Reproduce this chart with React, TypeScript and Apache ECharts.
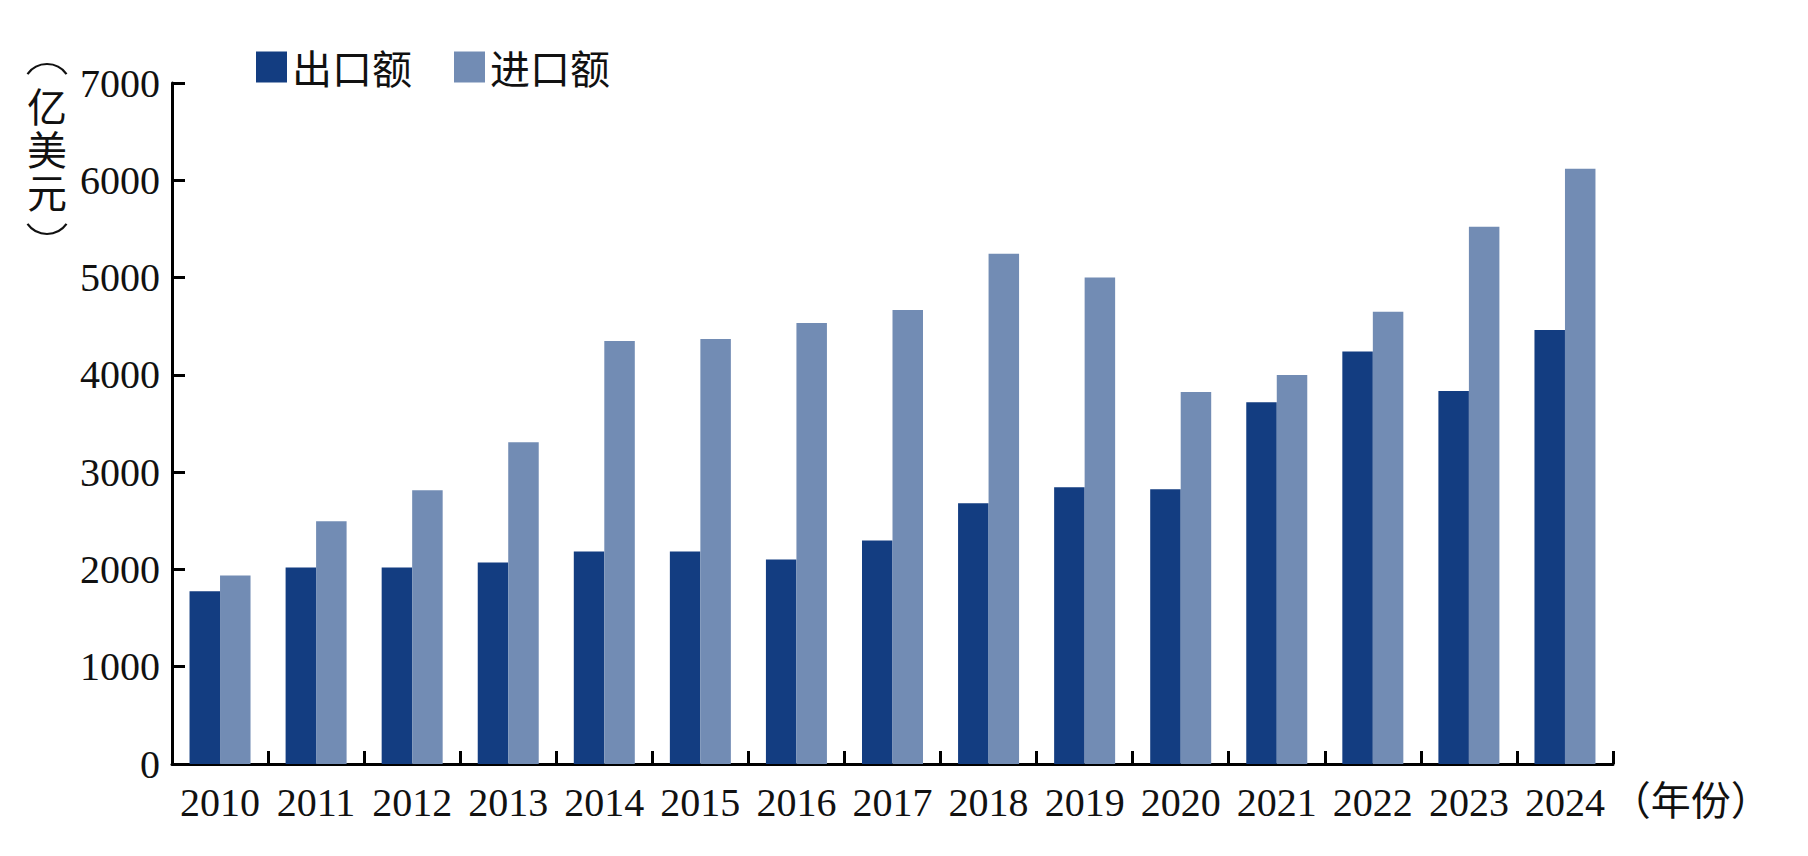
import React, { useEffect, useRef } from "react";
import * as echarts from "echarts";

const years = ["2010", "2011", "2012", "2013", "2014", "2015", "2016", "2017", "2018", "2019", "2020", "2021", "2022", "2023", "2024"];
const exportValues = [1775, 2020, 2020, 2072, 2185, 2185, 2103, 2298, 2680, 2845, 2825, 3719, 4240, 3835, 4460];
const importValues = [1938, 2494, 2813, 3308, 4349, 4369, 4533, 4667, 5244, 5000, 3824, 3998, 4648, 5523, 6119];
const seriesNames = ["出口额", "进口额"];
const yTicks = { min: 0, max: 7000, interval: 1000 };
const yAxisTitle = "亿\n美\n元";
const xAxisTitle = "（年份）";

const DARK = "#133d81";
const LIGHT = "#728cb4";
const SERIF = "'Liberation Serif', 'Noto Sans CJK SC', serif";
const CJK = "'Noto Sans CJK SC', sans-serif";

export default function App() {
  const ref = useRef<HTMLDivElement>(null);
  useEffect(() => {
    if (!ref.current) return;
    const chart = echarts.init(ref.current, null, { renderer: "svg" });
    const half = 0.95;
    const graphic: any[] = [
      {
        type: "text",
        x: 47,
        y: 148,
        style: { text: yAxisTitle, fontFamily: CJK, fontSize: 40, lineHeight: 43, fill: "#111", align: "center", verticalAlign: "middle" },
      },
      {
        type: "arc",
        shape: { cx: 47, cy: 88, r: 24, startAngle: -Math.PI / 2 - half, endAngle: -Math.PI / 2 + half, clockwise: true },
        style: { stroke: "#111", lineWidth: 2.2, fill: "none" },
      },
      {
        type: "arc",
        shape: { cx: 47, cy: 210, r: 24, startAngle: Math.PI / 2 - half, endAngle: Math.PI / 2 + half, clockwise: true },
        style: { stroke: "#111", lineWidth: 2.2, fill: "none" },
      },
    ];
    chart.setOption({
      animation: false,
      backgroundColor: "#ffffff",
      legend: {
        left: 256,
        top: 47,
        padding: 0,
        itemWidth: 31,
        itemHeight: 31,
        itemGap: 42,
        icon: "rect",
        textStyle: { fontFamily: CJK, fontSize: 40, color: "#111" },
        data: seriesNames,
      },
      grid: { left: 172, right: 195, top: 83, bottom: 92, containLabel: false },
      xAxis: {
        type: "category",
        data: years,
        boundaryGap: true,
        name: xAxisTitle,
        nameLocation: "end",
        nameGap: -8,
        nameTextStyle: {
          fontFamily: CJK,
          fontSize: 40,
          color: "#111",
          align: "left",
          verticalAlign: "top",
          padding: [14, 0, 0, 0],
        },
        axisLine: { lineStyle: { color: "#000", width: 3 } },
        axisTick: { show: true, inside: true, length: 13, lineStyle: { color: "#000", width: 3 }, alignWithLabel: false },
        axisLabel: { fontFamily: SERIF, fontSize: 40, color: "#111", margin: 18, interval: 0 },
        splitLine: { show: false },
      },
      yAxis: {
        type: "value",
        min: yTicks.min,
        max: yTicks.max,
        interval: yTicks.interval,
        axisLine: { show: true, lineStyle: { color: "#000", width: 3 } },
        axisTick: { show: true, inside: true, length: 13, lineStyle: { color: "#000", width: 3 } },
        axisLabel: { fontFamily: SERIF, fontSize: 40, color: "#111", margin: 12, formatter: (v: number) => String(v) },
        splitLine: { show: false },
      },
      graphic,
      series: [
        {
          name: seriesNames[0],
          type: "bar",
          data: exportValues,
          barWidth: 30.5,
          barGap: "0%",
          itemStyle: { color: DARK },
        },
        {
          name: seriesNames[1],
          type: "bar",
          data: importValues,
          barWidth: 30.5,
          barGap: "0%",
          itemStyle: { color: LIGHT },
        },
      ],
    });
    return () => chart.dispose();
  }, []);
  return <div ref={ref} style={{ position: "fixed", left: 0, top: 0, width: 1808, height: 856 }} />;
}
